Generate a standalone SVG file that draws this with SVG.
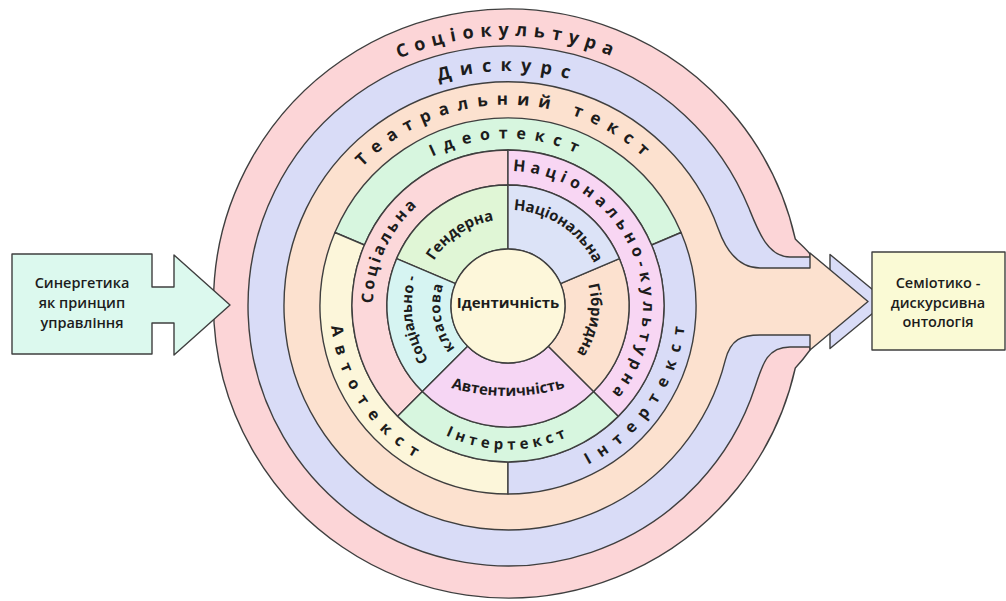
<svg xmlns="http://www.w3.org/2000/svg" width="1006" height="601" viewBox="0 0 1006 601">
<style>
.ln{stroke:#3f3f3f;stroke-width:1.4;stroke-linejoin:round}
.tr{font-family:"Open Sans","DejaVu Sans",sans-serif;font-weight:700;fill:#1c1c1c}
.tl{font-family:"Open Sans","DejaVu Sans",sans-serif;font-weight:700;fill:#1c1c1c}
.tb{font-family:"Open Sans","DejaVu Sans",sans-serif;font-weight:600;fill:#1c1c1c;font-size:14.5px;text-anchor:middle}
</style>
<defs>
<path id="p-soc" d="M239,282.5 A270,270 0 0 1 777,282.5"/>
<path id="p-dys" d="M273.9,285.5 A235,235 0 0 1 742.1,285.5"/>
<path id="p-teat1" d="M310.7,344.4 A201,201 0 0 1 695.7,234"/>
<path id="p-teat2" d="M346.4,186.4 A201,201 0 0 1 687.9,395.7"/>
<path id="p-ideo" d="M341.6,291.4 A167,167 0 0 1 674.4,291.4"/>
<path id="p-avto" d="M396,167.7 A178,178 0 0 0 594.3,461.7"/>
<path id="p-int1" d="M423.1,462.4 A178,178 0 0 0 618.8,166.7"/>
<path id="p-int2" d="M365.5,318.5 A143,143 0 0 0 650.5,318.5"/>
<path id="p-nk" d="M466.3,177.6 A135,135 0 0 1 571.4,425.2"/>
<path id="p-socal" d="M440.5,422.9 A135,135 0 0 1 554.2,179.1"/>
<path id="p-gend" d="M431.9,348.2 A87,87 0 0 1 575.6,251.3"/>
<path id="p-nats" d="M432.9,246.2 A96,96 0 0 1 592.4,351.8"/>
<path id="p-hibr" d="M529.1,225.7 A83,83 0 0 1 501.1,388.7"/>
<path id="p-avtent" d="M316.3,261.8 A204,204 0 0 0 699.7,261.8"/>
<path id="p-sk1" d="M513.9,401.8 A96,96 0 0 1 485.6,212.6"/>
<path id="p-sk2" d="M513.9,373.7 A68,68 0 0 1 490.4,240.3"/>
</defs>

<g id="ring-sociokultura">
<path class="ln" fill="#fcd5d7" d="M810,254 C805,248 800,244 795.3,239 A294.5,294.5 0 1 0 795.3,368 C800,363 805,357 810,350 Z"/>
<text class="tr" font-size="18" letter-spacing="6.6" text-anchor="middle"><textPath href="#p-soc" startOffset="50%">Соціокультура</textPath></text>
</g>

<g id="ring-dyskurs">
<path class="ln" fill="#d9dcf7" d="M812,257 H790 C768,257 758.4,231.8 749.1,208.6 A260,260 0 1 0 755.3,386.3 C763,362.5 768,347 790,347 H812 Z"/>
<text class="tr" font-size="18" letter-spacing="8.9" text-anchor="middle"><textPath href="#p-dys" startOffset="50%">Дискурс</textPath></text>
</g>

<g id="connectors">
<polygon class="ln" fill="#d9dcf7" points="830,254.5 887,301.5 830,348.5"/>
</g>

<g id="ring-teatralnyi-tekst">
<path class="ln" fill="#fce1cf" d="M810,268 H760 C738,268 726,250 718.5,229.4 A224,224 0 1 0 725.3,360.2 C730.6,338.9 742,335 760,335 H810 V350 L868,301.5 L810,253 Z"/>
<text class="tr" font-size="17" letter-spacing="8.7" text-anchor="middle"><textPath href="#p-teat1" startOffset="50%">Театральний</textPath></text>
<text class="tr" font-size="17" letter-spacing="8.7" text-anchor="middle"><textPath href="#p-teat2" startOffset="50%">текст</textPath></text>
</g>

<g id="sector-ideotekst">
<path class="ln" fill="#d7f6df" d="M681.1,232.5 A188,188 0 0 0 334.9,232.5 L364.4,245 A156,156 0 0 1 651.6,245 Z"/>
<text class="tr" font-size="16" letter-spacing="8.5" text-anchor="middle"><textPath href="#p-ideo" startOffset="50%">Ідеотекст</textPath></text>
</g>

<g id="sector-avtotekst">
<path class="ln" fill="#fcf6da" d="M334.9,232.5 A188,188 0 0 0 508,494 L508,462 A156,156 0 0 1 364.4,245 Z"/>
<text class="tr" font-size="16" letter-spacing="9.5" text-anchor="middle"><textPath href="#p-avto" startOffset="50%">Автотекст</textPath></text>
</g>

<g id="sector-intertekst-outer">
<path class="ln" fill="#d9dcf7" d="M508,494 A188,188 0 0 0 681.1,232.5 L651.6,245 A156,156 0 0 1 508,462 Z"/>
<text class="tr" font-size="16" letter-spacing="9.5" text-anchor="middle"><textPath href="#p-int1" startOffset="50%">Інтертекст</textPath></text>
</g>

<g id="sector-sotsialna">
<path class="ln" fill="#fcd8da" d="M508,150 A156,156 0 0 0 397.7,416.3 L422.4,391.6 A121,121 0 0 1 508,185 Z"/>
<text class="tr" font-size="16" letter-spacing="3" text-anchor="middle"><textPath href="#p-socal" startOffset="50%">Соціальна</textPath></text>
</g>

<g id="sector-intertekst-inner">
<path class="ln" fill="#d7f6df" d="M397.7,416.3 A156,156 0 0 0 618.3,416.3 L593.6,391.6 A121,121 0 0 1 422.4,391.6 Z"/>
<text class="tr" font-size="15" letter-spacing="4.5" text-anchor="middle"><textPath href="#p-int2" startOffset="50%">Інтертекст</textPath></text>
</g>

<g id="sector-natsionalno-kulturna">
<path class="ln" fill="#f8d6f3" d="M618.3,416.3 A156,156 0 0 0 508,150 L508,185 A121,121 0 0 1 593.6,391.6 Z"/>
<text class="tr" font-size="16" letter-spacing="5" text-anchor="middle"><textPath href="#p-nk" startOffset="50%">Національно-культурна</textPath></text>
</g>

<g id="sector-genderna">
<path class="ln" fill="#e0f6d6" d="M508,185 A121,121 0 0 0 396.6,258.7 L455.5,283.7 A57,57 0 0 1 508,249 Z"/>
<text class="tl" font-size="15" text-anchor="middle"><textPath href="#p-gend" startOffset="50%">Гендерна</textPath></text>
</g>

<g id="sector-sotsialno-klasova">
<path class="ln" fill="#d6f4f2" d="M396.6,258.7 A121,121 0 0 0 422.4,391.6 L467.7,346.3 A57,57 0 0 1 455.5,283.7 Z"/>
<text class="tl" font-size="14.5" text-anchor="middle"><textPath href="#p-sk1" startOffset="50%">Соціально -</textPath></text>
<text class="tl" font-size="14.5" letter-spacing="1" text-anchor="middle"><textPath href="#p-sk2" startOffset="50%">класова</textPath></text>
</g>

<g id="sector-avtentychnist">
<path class="ln" fill="#f6d6f4" d="M422.4,391.6 A121,121 0 0 0 593.6,391.6 L548.3,346.3 A57,57 0 0 1 467.7,346.3 Z"/>
<text class="tl" font-size="15" text-anchor="middle"><textPath href="#p-avtent" startOffset="50%">Автентичність</textPath></text>
</g>

<g id="sector-hibrydna">
<path class="ln" fill="#fce1cf" d="M593.6,391.6 A121,121 0 0 0 619.4,258.7 L560.5,283.7 A57,57 0 0 1 548.3,346.3 Z"/>
<text class="tl" font-size="15" text-anchor="middle"><textPath href="#p-hibr" startOffset="50%">Гібридна</textPath></text>
</g>

<g id="sector-natsionalna">
<path class="ln" fill="#dce3f7" d="M619.4,258.7 A121,121 0 0 0 508,185 L508,249 A57,57 0 0 1 560.5,283.7 Z"/>
<text class="tl" font-size="15" text-anchor="middle"><textPath href="#p-nats" startOffset="50%">Національна</textPath></text>
</g>

<g id="node-identychnist">
<circle class="ln" cx="508" cy="306" r="57" fill="#fdf7da"/>
<text class="tl" font-size="15" x="508" y="308" text-anchor="middle">Ідентичність</text>
</g>

<g id="node-synerhetyka">
<polygon class="ln" fill="#dcf9ee" points="12,254 152,254 152,287 174,287 174,255 230,305 174,355 174,323 152,323 152,354 12,354"/>
<text class="tb" x="82" y="288">Синергетика</text>
<text class="tb" x="82" y="308">як принцип</text>
<text class="tb" x="82" y="328">управління</text>
</g>

<g id="node-semiotyko">
<rect class="ln" x="872" y="252" width="133" height="98" fill="#fafad5"/>
<text class="tb" x="938" y="288">Семіотико -</text>
<text class="tb" x="938" y="308">дискурсивна</text>
<text class="tb" x="938" y="327">онтологія</text>
</g>
</svg>
